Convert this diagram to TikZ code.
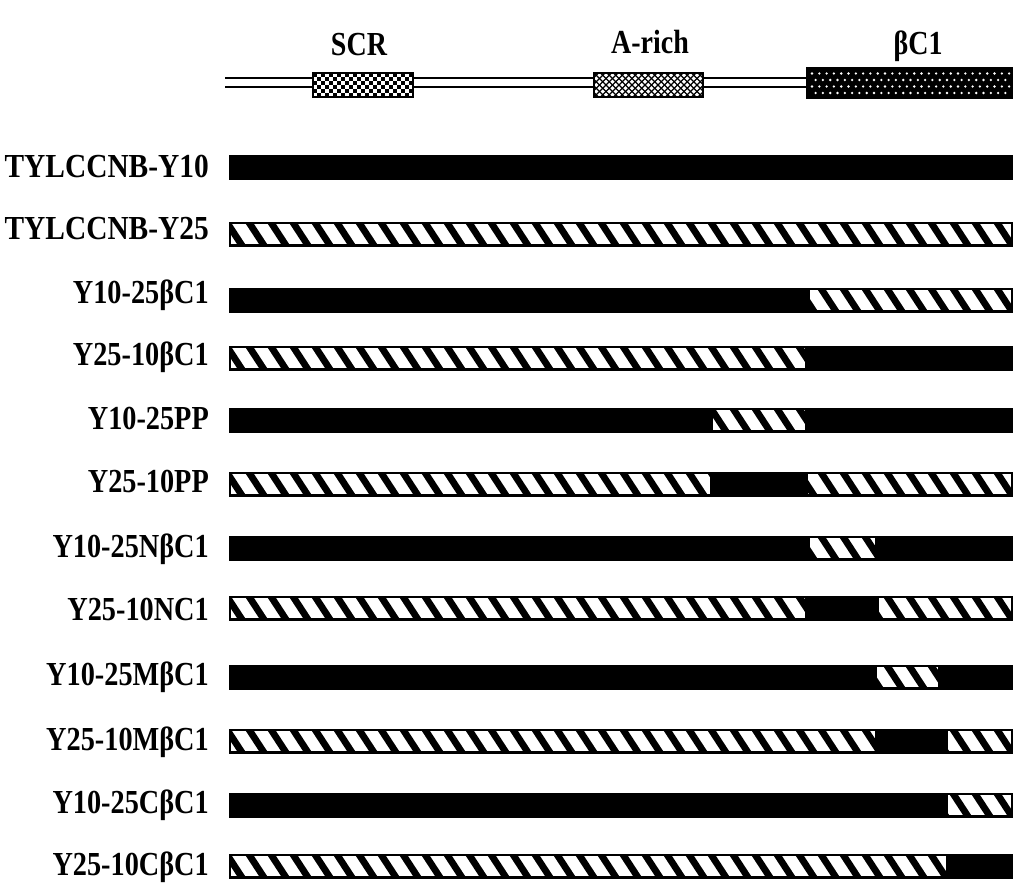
\documentclass[tikz,border=0pt]{standalone}
\usepackage{fontspec}
\setmainfont{Liberation Serif}
\usepackage{graphicx}
\tikzset{
  lbl/.style={font=\fontsize{28}{30}\selectfont\bfseries, inner sep=0pt},
  hdr/.style={font=\fontsize{28}{30}\selectfont\bfseries, inner sep=0pt, anchor=base},
  wire/.style={line width=2pt},
  boxedge/.style={draw=black, line width=2pt}
}
\newcommand\vs[1]{\scalebox{1}[1.2]{#1}}
\newcommand\vl[1]{\scalebox{1.01}[1.2]{#1}}
% #1 = y centre, #2 = left x, #3 = right x
\newcommand\hseg[3]{%
  \begin{scope}
    \clip (#2,#1-10) rectangle (#3,#1+10);
    \fill[white] (#2,#1-10) rectangle (#3,#1+10);
    \foreach \k in {-1,...,36}{
      \draw[line width=6.8pt] ({226+22*\k},#1-13) -- ({226+22*\k+17},#1+13);
    }
  \end{scope}}
\newcommand\mybar[1]{\fill (229,#1-12.5) rectangle (1013,#1+12.5);}
\begin{document}
\begin{tikzpicture}[x=1pt,y=-1pt]
\useasboundingbox[fill=white] (0,0) rectangle (1024,892);

% ---------- header ----------
\draw[wire] (225,78) -- (807,78);
\draw[wire] (225,87) -- (807,87);

% SCR box (checkerboard)
\fill[white] (313,73) rectangle (413,97);
\begin{scope}
  \clip (313,73) rectangle (413,97);
  \foreach \i in {0,...,24}{
    \foreach \j in {0,...,5}{
      \pgfmathtruncatemacro\chk{mod(\i+\j,2)}
      \ifnum\chk=0
        \fill (313+4*\i,73+4*\j) rectangle (317+4*\i,77+4*\j);
      \fi
    }
  }
\end{scope}
\draw[boxedge] (313,73) rectangle (413,97);

% A-rich box (crosshatch)
\fill[white] (594,73) rectangle (703,97);
\begin{scope}
  \clip (594,73) rectangle (703,97);
  \foreach \k in {-6,...,26}{
    \draw[line width=1.2pt] ({594+6.5*\k},73) -- ({594+6.5*\k+24},97);
    \draw[line width=1.2pt] ({594+6.5*\k},97) -- ({594+6.5*\k+24},73);
  }
\end{scope}
\draw[boxedge] (594,73) rectangle (703,97);

% beta C1 box (black with white dots)
\fill (807,68) rectangle (1012,98);
\foreach \i in {0,...,27}{
  \fill[white] ({812+7.3*\i},73.5) circle (1.3);
  \fill[white] ({815.6+7.3*\i},80) circle (1.3);
  \fill[white] ({812+7.3*\i},86.5) circle (1.3);
  \fill[white] ({815.6+7.3*\i},93) circle (1.3);
}
\draw[boxedge] (807,68) rectangle (1012,98);

\node[hdr] (hSCR) at (359,55) {\vs{SCR}};
\node[hdr] (hArich) at (650,53) {\vs{A-rich}};
\node[hdr] (hbC) at (918,54) {\vs{βC1}};

% ---------- constructs ----------
% 1
\mybar{167}
\node[lbl, anchor=base east] (l1) at (209,177) {\scalebox{1.05}[1.2]{TYLCCNB-Y10}};
% 2
\mybar{234}
\hseg{234}{231}{1011}
\node[lbl, anchor=base east] (l2) at (209,239) {\scalebox{1.05}[1.2]{TYLCCNB-Y25}};
% 3
\mybar{300}
\hseg{300}{810}{1011}
\node[lbl, anchor=base east] (l3) at (209,303) {\vl{Y10-25βC1}};
% 4
\mybar{358}
\hseg{358}{231}{805}
\node[lbl, anchor=base east] (l4) at (209,365) {\vl{Y25-10βC1}};
% 5
\mybar{420}
\hseg{420}{713}{805}
\node[lbl, anchor=base east] (l5) at (209,429) {\vl{Y10-25PP}};
% 6
\mybar{484}
\hseg{484}{231}{710}
\hseg{484}{808}{1011}
\node[lbl, anchor=base east] (l6) at (209,492) {\vl{Y25-10PP}};
% 7
\mybar{548}
\hseg{548}{810}{875}
\node[lbl, anchor=base east] (l7) at (209,557) {\vl{Y10-25NβC1}};
% 8
\mybar{608}
\hseg{608}{231}{805}
\hseg{608}{879}{1011}
\node[lbl, anchor=base east] (l8) at (209,620) {\vl{Y25-10NC1}};
% 9
\mybar{677}
\hseg{677}{877}{938}
\node[lbl, anchor=base east] (l9) at (209,685) {\vl{Y10-25MβC1}};
% 10
\mybar{741}
\hseg{741}{231}{875}
\hseg{741}{948}{1011}
\node[lbl, anchor=base east] (l10) at (209,750) {\vl{Y25-10MβC1}};
% 11
\mybar{805}
\hseg{805}{948}{1011}
\node[lbl, anchor=base east] (l11) at (209,813) {\vl{Y10-25CβC1}};
% 12
\mybar{866}
\hseg{866}{231}{946}
\node[lbl, anchor=base east] (l12) at (209,875) {\vl{Y25-10CβC1}};
\end{tikzpicture}
\end{document}
